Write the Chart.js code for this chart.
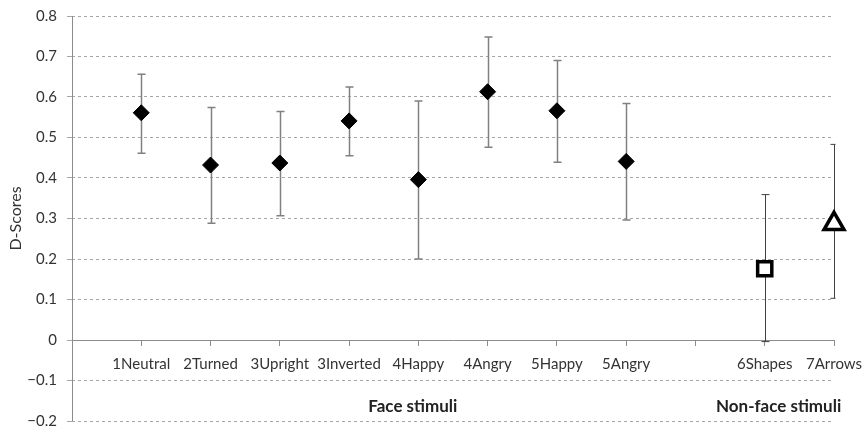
<!DOCTYPE html>
<html><head><meta charset="utf-8">
<script src="https://cdn.jsdelivr.net/npm/chart.js@4.4.0/dist/chart.umd.min.js"></script>
<style>html,body{margin:0;padding:0;background:#fff}#wrap{width:867px;height:430px}</style>
</head><body><div id="wrap"><canvas id="c" width="867" height="430"></canvas></div>
<script>
const categories = ['', '1Neutral', '2Turned', '3Upright', '3Inverted', '4Happy', '4Angry', '5Happy', '5Angry', '', '6Shapes', '7Arrows'];
const faceMeans  = [null, 0.561, 0.432, 0.437, 0.541, 0.396, 0.613, 0.566, 0.441, null, null, null];
const faceUpper  = [null, 0.656, 0.574, 0.564, 0.625, 0.590, 0.748, 0.690, 0.584, null, null, null];
const faceLower  = [null, 0.461, 0.288, 0.307, 0.455, 0.200, 0.476, 0.439, 0.296, null, null, null];
const shapesMeans = [null, null, null, null, null, null, null, null, null, null, 0.176, null];
const shapesUpper = [null, null, null, null, null, null, null, null, null, null, 0.359, null];
const shapesLower = [null, null, null, null, null, null, null, null, null, null, -0.004, null];
const arrowsMeans = [null, null, null, null, null, null, null, null, null, null, null, 0.287];
const arrowsUpper = [null, null, null, null, null, null, null, null, null, null, null, 0.483];
const arrowsLower = [null, null, null, null, null, null, null, null, null, null, null, 0.103];
const groupLabels = ['Face stimuli', 'Non-face stimuli'];
const yTicks = [0.8, 0.7, 0.6, 0.5, 0.4, 0.3, 0.2, 0.1, 0, -0.1, -0.2];

const FONT = 'Lato, "Open Sans", sans-serif';

function zeroPad(s) { s.paddingLeft = 0; s.paddingRight = 0; s.paddingTop = 0; s.paddingBottom = 0; }

const plotBottom = {
  id: 'plotBottom',
  afterLayout(chart) {
    const ca = chart.chartArea, y = chart.scales.y;
    const target = 421;
    ca.bottom = target; ca.height = ca.bottom - ca.top;
    y.bottom = target; y.height = y.bottom - y.top;
    y.configure();
  }
};

const errorBars = {
  id: 'errorBars',
  beforeDatasetsDraw(chart) {
    const {ctx, chartArea, scales: {x, y}} = chart;
    ctx.save();
    ctx.strokeStyle = '#8c8c8c';
    ctx.lineWidth = 1;
    ctx.beginPath();
    const ax = Math.round(chartArea.left) + 0.5;
    ctx.moveTo(ax, chartArea.top); ctx.lineTo(ax, chartArea.bottom);
    ctx.stroke();
    ctx.restore();

    ctx.save();
    ctx.beginPath();
    ctx.rect(chartArea.left, chartArea.top - 2, chartArea.right - chartArea.left + 1.5, chartArea.bottom - chartArea.top + 4);
    ctx.clip();
    chart.data.datasets.forEach(ds => {
      ds.data.forEach((v, i) => {
        if (v === null || ds.upper[i] === null) return;
        const px = Math.round(x.getPixelForValue(i)) + 0.5;
        const yt = y.getPixelForValue(ds.upper[i]);
        const yb = y.getPixelForValue(ds.lower[i]);
        ctx.strokeStyle = ds.errColor;
        ctx.lineWidth = ds.errWidth;
        ctx.beginPath();
        ctx.moveTo(px, yt); ctx.lineTo(px, yb);
        ctx.moveTo(px - 4, yt); ctx.lineTo(px + 4, yt);
        ctx.moveTo(px - 4, yb); ctx.lineTo(px + 4, yb);
        ctx.stroke();
      });
    });
    ctx.restore();
  }
};

const groupText = {
  id: 'groupText',
  afterDraw(chart) {
    const {ctx, scales: {x}} = chart;
    const centers = [4.92, 10.2];
    ctx.save();
    ctx.font = 'bold 17px ' + FONT;
    ctx.fillStyle = '#222';
    ctx.textAlign = 'center';
    ctx.textBaseline = 'middle';
    groupLabels.forEach((t, k) => ctx.fillText(t, x.getPixelForValue(centers[k]), 407));
    ctx.restore();
  }
};

new Chart(document.getElementById('c'), {
  type: 'line',
  data: {
    labels: categories,
    datasets: [
      {data: faceMeans, upper: faceUpper, lower: faceLower, showLine: false,
       pointStyle: 'rectRot', pointRadius: 8, pointHoverRadius: 8,
       backgroundColor: '#000', borderColor: '#000', pointBorderWidth: 1,
       errColor: '#808080', errWidth: 1.5},
      {data: shapesMeans, upper: shapesUpper, lower: shapesLower, showLine: false,
       pointStyle: 'rect', pointRadius: 10, pointHoverRadius: 10,
       backgroundColor: '#fff', borderColor: '#000', pointBorderWidth: 3.5,
       errColor: '#404040', errWidth: 1},
      {data: arrowsMeans, upper: arrowsUpper, lower: arrowsLower, showLine: false,
       pointStyle: 'triangle', pointRadius: 11.5, pointHoverRadius: 11.5,
       backgroundColor: '#fff', borderColor: '#000', pointBorderWidth: 3.5,
       errColor: '#404040', errWidth: 1}
    ]
  },
  options: {
    responsive: false,
    animation: false,
    events: [],
    layout: {padding: {top: 16, right: 33, bottom: 9, left: 0}},
    plugins: {legend: {display: false}, tooltip: {enabled: false}},
    scales: {
      x: {
        type: 'category',
        position: {y: 0},
        offset: false,
        afterFit: zeroPad,
        border: {display: true, color: '#8c8c8c', width: 1},
        grid: {display: true, drawOnChartArea: false, drawTicks: true, tickLength: 5, color: '#8c8c8c'},
        ticks: {autoSkip: false, maxRotation: 0, minRotation: 0, padding: 10,
                color: '#333', font: {family: FONT, size: 15}}
      },
      y: {
        min: -0.2, max: 0.8,
        afterFit(s) { s.width = 72; zeroPad(s); },
        afterBuildTicks(s) { s.ticks = yTicks.map(v => ({value: v})); },
        border: {display: false, dash: [3, 3]},
        grid: {color: '#a6a6a6', tickLength: 5, lineWidth: 1},
        ticks: {padding: 10, color: '#333', font: {family: FONT, size: 15},
                callback: v => (v < 0 ? '\u2212' + Math.abs(v) : String(v))},
        title: {display: true, text: 'D-Scores', color: '#333', font: {family: FONT, size: 16}, padding: {top: 6, bottom: 0}}
      }
    }
  },
  plugins: [plotBottom, errorBars, groupText]
});
</script></body></html>
